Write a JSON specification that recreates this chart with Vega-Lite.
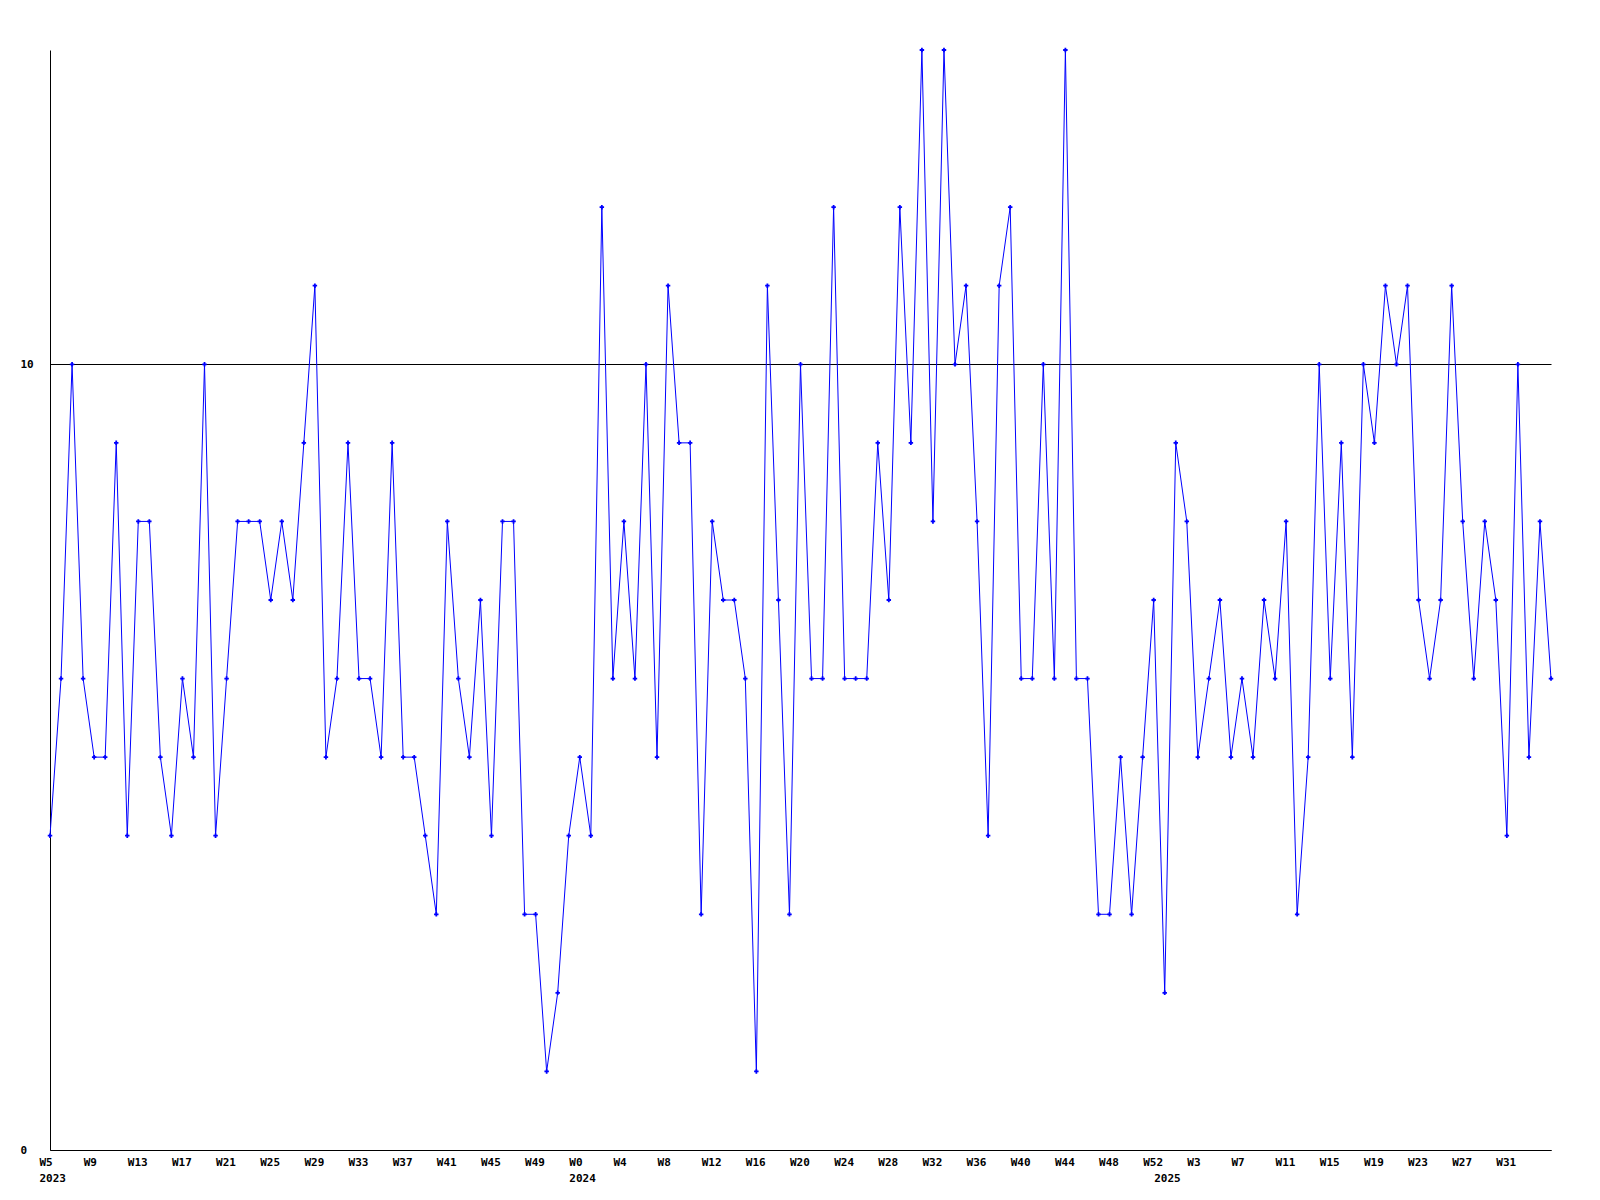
{
  "$schema": "https://vega.github.io/schema/vega-lite/v6.json",
  "width": 1501,
  "height": 1100,
  "autosize": {"type": "none"},
  "padding": {"left": 50, "top": 50, "right": 49, "bottom": 50},
  "background": "white",
  "config": {"view": {"stroke": null}},
  "data": {"values": [
    {"week": "2023-W05", "n": 4}, {"week": "2023-W06", "n": 6}, {"week": "2023-W07", "n": 10}, {"week": "2023-W08", "n": 6},
    {"week": "2023-W09", "n": 5}, {"week": "2023-W10", "n": 5}, {"week": "2023-W11", "n": 9}, {"week": "2023-W12", "n": 4},
    {"week": "2023-W13", "n": 8}, {"week": "2023-W14", "n": 8}, {"week": "2023-W15", "n": 5}, {"week": "2023-W16", "n": 4},
    {"week": "2023-W17", "n": 6}, {"week": "2023-W18", "n": 5}, {"week": "2023-W19", "n": 10}, {"week": "2023-W20", "n": 4},
    {"week": "2023-W21", "n": 6}, {"week": "2023-W22", "n": 8}, {"week": "2023-W23", "n": 8}, {"week": "2023-W24", "n": 8},
    {"week": "2023-W25", "n": 7}, {"week": "2023-W26", "n": 8}, {"week": "2023-W27", "n": 7}, {"week": "2023-W28", "n": 9},
    {"week": "2023-W29", "n": 11}, {"week": "2023-W30", "n": 5}, {"week": "2023-W31", "n": 6}, {"week": "2023-W32", "n": 9},
    {"week": "2023-W33", "n": 6}, {"week": "2023-W34", "n": 6}, {"week": "2023-W35", "n": 5}, {"week": "2023-W36", "n": 9},
    {"week": "2023-W37", "n": 5}, {"week": "2023-W38", "n": 5}, {"week": "2023-W39", "n": 4}, {"week": "2023-W40", "n": 3},
    {"week": "2023-W41", "n": 8}, {"week": "2023-W42", "n": 6}, {"week": "2023-W43", "n": 5}, {"week": "2023-W44", "n": 7},
    {"week": "2023-W45", "n": 4}, {"week": "2023-W46", "n": 8}, {"week": "2023-W47", "n": 8}, {"week": "2023-W48", "n": 3},
    {"week": "2023-W49", "n": 3}, {"week": "2023-W50", "n": 1}, {"week": "2023-W51", "n": 2}, {"week": "2023-W52", "n": 4},
    {"week": "2024-W00", "n": 5}, {"week": "2024-W01", "n": 4}, {"week": "2024-W02", "n": 12}, {"week": "2024-W03", "n": 6},
    {"week": "2024-W04", "n": 8}, {"week": "2024-W05", "n": 6}, {"week": "2024-W06", "n": 10}, {"week": "2024-W07", "n": 5},
    {"week": "2024-W08", "n": 11}, {"week": "2024-W09", "n": 9}, {"week": "2024-W10", "n": 9}, {"week": "2024-W11", "n": 3},
    {"week": "2024-W12", "n": 8}, {"week": "2024-W13", "n": 7}, {"week": "2024-W14", "n": 7}, {"week": "2024-W15", "n": 6},
    {"week": "2024-W16", "n": 1}, {"week": "2024-W17", "n": 11}, {"week": "2024-W18", "n": 7}, {"week": "2024-W19", "n": 3},
    {"week": "2024-W20", "n": 10}, {"week": "2024-W21", "n": 6}, {"week": "2024-W22", "n": 6}, {"week": "2024-W23", "n": 12},
    {"week": "2024-W24", "n": 6}, {"week": "2024-W25", "n": 6}, {"week": "2024-W26", "n": 6}, {"week": "2024-W27", "n": 9},
    {"week": "2024-W28", "n": 7}, {"week": "2024-W29", "n": 12}, {"week": "2024-W30", "n": 9}, {"week": "2024-W31", "n": 14},
    {"week": "2024-W32", "n": 8}, {"week": "2024-W33", "n": 14}, {"week": "2024-W34", "n": 10}, {"week": "2024-W35", "n": 11},
    {"week": "2024-W36", "n": 8}, {"week": "2024-W37", "n": 4}, {"week": "2024-W38", "n": 11}, {"week": "2024-W39", "n": 12},
    {"week": "2024-W40", "n": 6}, {"week": "2024-W41", "n": 6}, {"week": "2024-W42", "n": 10}, {"week": "2024-W43", "n": 6},
    {"week": "2024-W44", "n": 14}, {"week": "2024-W45", "n": 6}, {"week": "2024-W46", "n": 6}, {"week": "2024-W47", "n": 3},
    {"week": "2024-W48", "n": 3}, {"week": "2024-W49", "n": 5}, {"week": "2024-W50", "n": 3}, {"week": "2024-W51", "n": 5},
    {"week": "2024-W52", "n": 7},
    {"week": "2025-W00", "n": 2}, {"week": "2025-W01", "n": 9}, {"week": "2025-W02", "n": 8}, {"week": "2025-W03", "n": 5},
    {"week": "2025-W04", "n": 6}, {"week": "2025-W05", "n": 7}, {"week": "2025-W06", "n": 5}, {"week": "2025-W07", "n": 6},
    {"week": "2025-W08", "n": 5}, {"week": "2025-W09", "n": 7}, {"week": "2025-W10", "n": 6}, {"week": "2025-W11", "n": 8},
    {"week": "2025-W12", "n": 3}, {"week": "2025-W13", "n": 5}, {"week": "2025-W14", "n": 10}, {"week": "2025-W15", "n": 6},
    {"week": "2025-W16", "n": 9}, {"week": "2025-W17", "n": 5}, {"week": "2025-W18", "n": 10}, {"week": "2025-W19", "n": 9},
    {"week": "2025-W20", "n": 11}, {"week": "2025-W21", "n": 10}, {"week": "2025-W22", "n": 11}, {"week": "2025-W23", "n": 7},
    {"week": "2025-W24", "n": 6}, {"week": "2025-W25", "n": 7}, {"week": "2025-W26", "n": 11}, {"week": "2025-W27", "n": 8},
    {"week": "2025-W28", "n": 6}, {"week": "2025-W29", "n": 8}, {"week": "2025-W30", "n": 7}, {"week": "2025-W31", "n": 4},
    {"week": "2025-W32", "n": 10}, {"week": "2025-W33", "n": 5}, {"week": "2025-W34", "n": 8}, {"week": "2025-W35", "n": 6}
  ]},
  "mark": {
    "type": "line",
    "color": "#0000ff",
    "strokeWidth": 1,
    "point": {"filled": true, "shape": "cross", "size": 20, "color": "#0000ff"}
  },
  "encoding": {
    "x": {
      "field": "week",
      "type": "ordinal",
      "sort": null,
      "scale": {"type": "point", "padding": 0},
      "axis": {
        "title": null,
        "values": ["2023-W05", "2023-W09", "2023-W13", "2023-W17", "2023-W21", "2023-W25", "2023-W29", "2023-W33", "2023-W37", "2023-W41", "2023-W45", "2023-W49",
                   "2024-W00", "2024-W04", "2024-W08", "2024-W12", "2024-W16", "2024-W20", "2024-W24", "2024-W28", "2024-W32", "2024-W36", "2024-W40", "2024-W44", "2024-W48", "2024-W52",
                   "2025-W00", "2025-W03", "2025-W07", "2025-W11", "2025-W15", "2025-W19", "2025-W23", "2025-W27", "2025-W31"],
        "labelExpr": "datum.value == '2023-W05' ? ['W5', '2023'] : datum.value == '2024-W00' ? ['W0', '2024'] : datum.value == '2025-W00' ? ['', '2025'] : 'W' + toNumber(substring(datum.value, 6))",
        "labelAngle": 0,
        "labelAlign": "left",
        "labelBaseline": "top",
        "labelOffset": -11,
        "labelPadding": 6,
        "labelLineHeight": 16,
        "labelFont": "DejaVu Sans Mono",
        "labelFontWeight": "bold",
        "labelFontSize": 11,
        "labelColor": "black",
        "labelOverlap": false,
        "labelBound": false,
        "ticks": false,
        "grid": false,
        "domainColor": "black",
        "domainWidth": 1
      }
    },
    "y": {
      "field": "n",
      "type": "quantitative",
      "scale": {"domain": [0, 14], "nice": false, "zero": true},
      "axis": {
        "title": null,
        "values": [0, 10],
        "grid": true,
        "gridColor": "black",
        "gridOpacity": 1,
        "gridWidth": 1,
        "ticks": false,
        "labelAlign": "left",
        "labelBaseline": "middle",
        "labelPadding": 30,
        "labelFont": "DejaVu Sans Mono",
        "labelFontWeight": "bold",
        "labelFontSize": 11,
        "labelColor": "black",
        "labelOverlap": false,
        "labelBound": false,
        "domainColor": "black",
        "domainWidth": 1
      }
    }
  }
}
